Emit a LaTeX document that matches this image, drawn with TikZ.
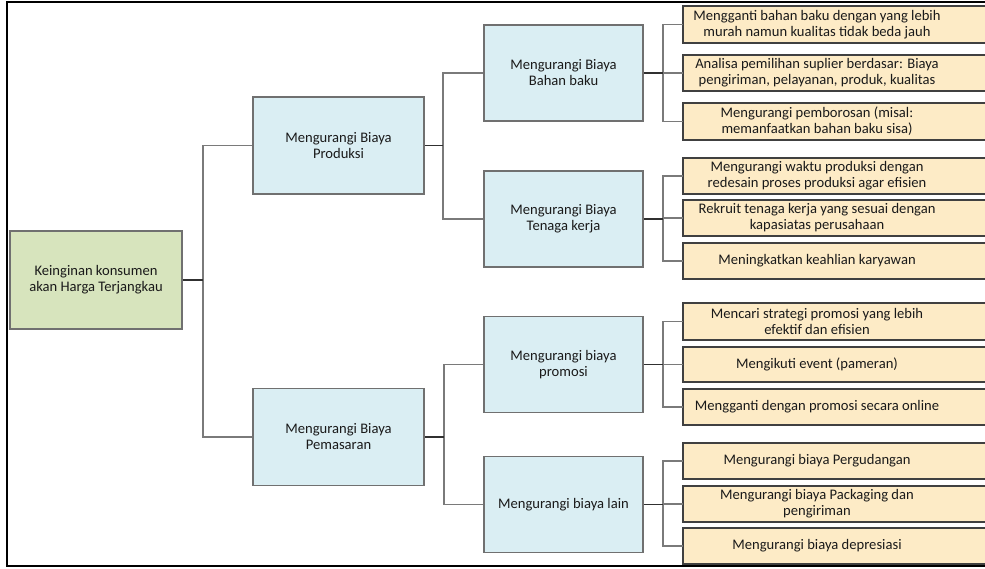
\documentclass[tikz,border=0pt]{standalone}
\usepackage{fontspec}
\setmainfont{Carlito}
\usetikzlibrary{backgrounds,calc}
\definecolor{rootfill}{HTML}{D7E4BD}
\definecolor{midfill}{HTML}{DAEEF3}
\definecolor{leaffill}{HTML}{FDEBC6}
\definecolor{boxline}{HTML}{707070}
\definecolor{leafline}{HTML}{404040}
\definecolor{conline}{HTML}{7A7A7A}
\definecolor{stemline}{HTML}{303030}
\definecolor{txtcol}{HTML}{1A1A1A}
\tikzset{
  txt/.style={font=\fontsize{14.6}{16}\selectfont, text=txtcol, align=center, inner sep=0pt},
  rootbox/.style={txt, draw=boxline, fill=rootfill, line width=1.5pt, minimum width=172pt, minimum height=98pt},
  midbox/.style={txt, draw=boxline, fill=midfill, line width=1.5pt, minimum width=171pt, minimum height=97pt},
  subbox/.style={txt, draw=boxline, fill=midfill, line width=1.5pt, minimum width=159pt, minimum height=96pt},
  leafbox/.style={txt, minimum width=268pt, minimum height=36pt},
  leafshape/.style={draw=leafline, fill=leaffill, line width=1.5pt},
  conn/.style={draw=conline, line width=1.4pt},
  stem/.style={draw=stemline, line width=1.4pt},
  frame/.style={draw=black, line width=1.2pt}
}
\begin{document}
\begin{tikzpicture}[x=1pt,y=-1pt]
\useasboundingbox (0,0) rectangle (985,568);
\draw[frame] (7,2) rectangle (1000,566);

\node[rootbox] (root) at (96,280) {Keinginan konsumen\\akan Harga Terjangkau};
\node[midbox] (prod) at (338.5,145.5) {Mengurangi Biaya\\Produksi};
\node[midbox] (pem) at (338.5,437) {Mengurangi Biaya\\Pemasaran};
\node[subbox] (bahan) at (563.5,73) {Mengurangi Biaya\\Bahan baku};
\node[subbox] (tenaga) at (563.5,219) {Mengurangi Biaya\\Tenaga kerja};
\node[subbox] (promosi) at (563.5,364.5) {Mengurangi biaya\\promosi};
\node[subbox] (lain) at (563.5,504.5) {Mengurangi biaya lain};

\node[leafbox, minimum height=37pt] (l1) at (817,24.5) {Mengganti bahan baku dengan yang lebih\\murah namun kualitas tidak beda jauh};
\node[leafbox] (l2) at (817,73) {Analisa pemilihan suplier berdasar: Biaya\\pengiriman, pelayanan, produk, kualitas};
\node[leafbox, minimum height=37pt] (l3) at (817,121.5) {Mengurangi pemborosan (misal:\\memanfaatkan bahan baku sisa)};
\node[leafbox] (l4) at (817,176) {Mengurangi waktu produksi dengan\\redesain proses produksi agar efisien};
\node[leafbox] (l5) at (817,218) {Rekruit tenaga kerja yang sesuai dengan\\kapasiatas perusahaan};
\node[leafbox] (l6) at (817,261) {Meningkatkan keahlian karyawan};
\node[leafbox, minimum height=37pt] (l7) at (817,321.5) {Mencari strategi promosi yang lebih\\efektif dan efisien};
\node[leafbox, minimum height=35pt] (l8) at (817,364.5) {Mengikuti event (pameran)};
\node[leafbox] (l9) at (817,407) {Mengganti dengan promosi secara online};
\node[leafbox] (l10) at (817,461) {Mengurangi biaya Pergudangan};
\node[leafbox] (l11) at (817,504) {Mengurangi biaya Packaging dan\\pengiriman};
\node[leafbox] (l12) at (817,546) {Mengurangi biaya depresiasi};

\begin{scope}[on background layer]
  \foreach \n in {l1,l2,l3,l4,l5,l6,l7,l8,l9,l10,l11,l12}{
    \draw[leafshape] (\n.north west) rectangle ($(\n.south east)+(80,0)$);
  }
\end{scope}

\coordinate (j0) at (203,280);
\coordinate (j1) at (443,145.5);
\coordinate (j2) at (444,437);
\coordinate (k1) at (663,73);
\coordinate (k2) at (663,219);
\coordinate (k3) at (663,364.5);
\coordinate (k4) at (663,504.5);

\begin{scope}[on background layer]
\draw[conn] (j0) |- (prod.west);
\draw[conn] (j0) |- (pem.west);
\draw[conn] (j1) |- (bahan.west);
\draw[conn] (j1) |- (tenaga.west);
\draw[conn] (j2) |- (promosi.west);
\draw[conn] (j2) |- (lain.west);
\draw[conn] (k1) |- (l1.west);
\draw[conn] (k1) |- (l2.west);
\draw[conn] (k1) |- (l3.west);
\draw[conn] (k2) |- (l4.west);
\draw[conn] (k2) |- (l5.west);
\draw[conn] (k2) |- (l6.west);
\draw[conn] (k3) |- (l7.west);
\draw[conn] (k3) |- (l8.west);
\draw[conn] (k3) |- (l9.west);
\draw[conn] (k4) |- (l10.west);
\draw[conn] (k4) |- (l11.west);
\draw[conn] (k4) |- (l12.west);
\draw[stem] (root.east) -- (j0);
\draw[stem] (prod.east) -- (j1);
\draw[stem] (pem.east) -- (j2);
\draw[stem] (bahan.east) -- (k1);
\draw[stem] (tenaga.east) -- (k2);
\draw[stem] (promosi.east) -- (k3);
\draw[stem] (lain.east) -- (k4);
\end{scope}
\end{tikzpicture}
\end{document}
